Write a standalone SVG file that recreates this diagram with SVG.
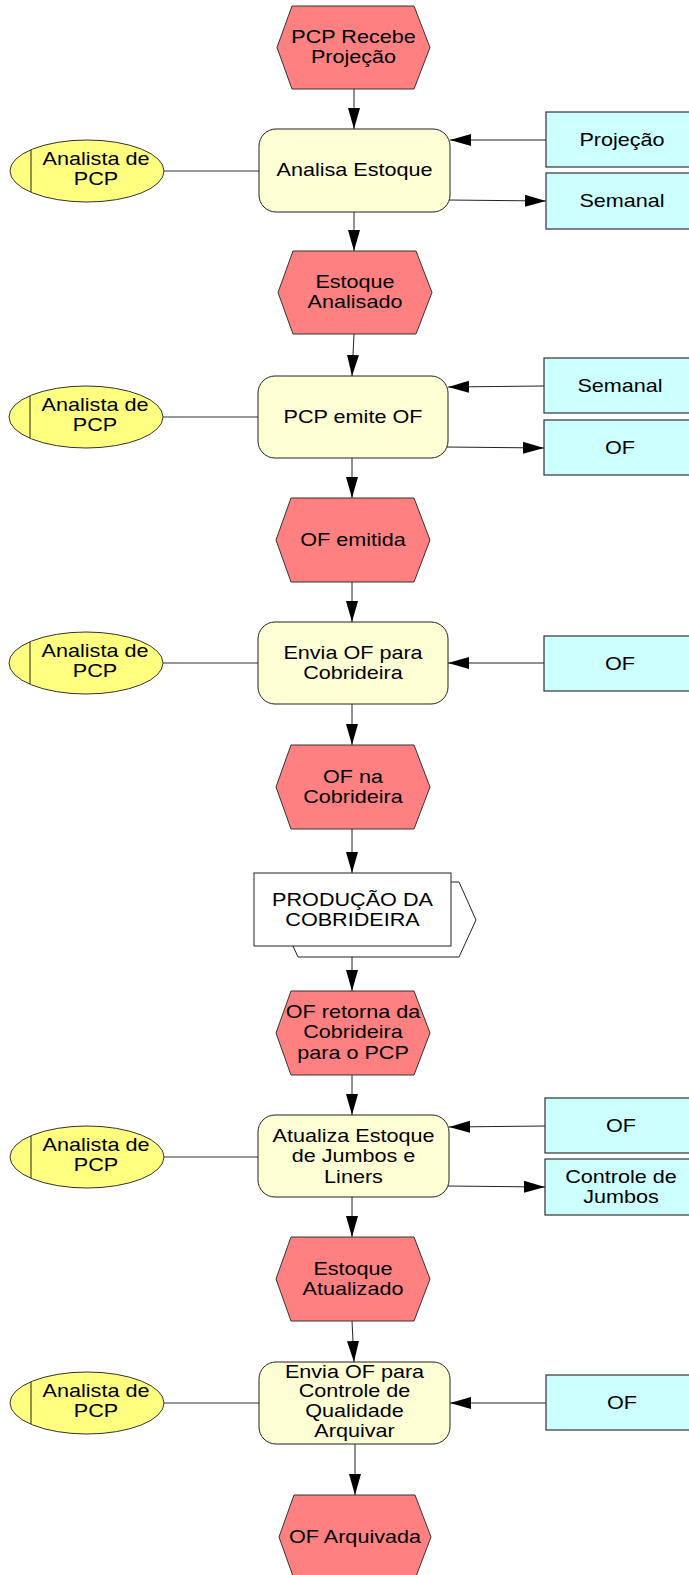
<svg xmlns="http://www.w3.org/2000/svg" width="689" height="1575" viewBox="0 0 689 1575">
<style>
.hex{fill:#FF8080;stroke:#333;stroke-width:1}
.fn{fill:#FFFFD5;stroke:#222;stroke-width:1}
.org{fill:#FFFF80;stroke:#333;stroke-width:1}
.inf{fill:#CCFFFF;stroke:#333;stroke-width:1.2}
.pi{fill:#fff;stroke:#222;stroke-width:1}
.t{font-family:"Liberation Sans",Arial,sans-serif;font-size:18px;fill:#000;text-anchor:middle}
.c{stroke:#222;stroke-width:1;fill:none}
.g{stroke:#333;stroke-width:1.1;fill:none}
</style>
<defs>
<marker id="ah" markerUnits="userSpaceOnUse" markerWidth="21" markerHeight="12" refX="21" refY="6" orient="auto">
<path d="M0,0 L21,6 L0,12 z" fill="#000"/>
</marker>
</defs>
<g id="connectors">
<line class="c" x1="354" y1="89" x2="354" y2="129" marker-end="url(#ah)"/>
<line class="c" x1="354" y1="212" x2="354" y2="251" marker-end="url(#ah)"/>
<line class="c" x1="354" y1="334" x2="352" y2="376" marker-end="url(#ah)"/>
<line class="c" x1="352" y1="458" x2="352" y2="498" marker-end="url(#ah)"/>
<line class="c" x1="352" y1="582" x2="352" y2="622" marker-end="url(#ah)"/>
<line class="c" x1="352" y1="704" x2="352" y2="745" marker-end="url(#ah)"/>
<line class="c" x1="352" y1="829" x2="352" y2="873" marker-end="url(#ah)"/>
<line class="c" x1="352" y1="946" x2="352" y2="991" marker-end="url(#ah)"/>
<line class="c" x1="352" y1="1075" x2="352" y2="1115" marker-end="url(#ah)"/>
<line class="c" x1="352" y1="1197" x2="352" y2="1237" marker-end="url(#ah)"/>
<line class="c" x1="352" y1="1321" x2="354" y2="1362" marker-end="url(#ah)"/>
<line class="c" x1="355" y1="1444" x2="355" y2="1495" marker-end="url(#ah)"/>
<line class="c" x1="546" y1="140" x2="450" y2="140" marker-end="url(#ah)"/>
<line class="c" x1="448" y1="200" x2="546" y2="201" marker-end="url(#ah)"/>
<line class="c" x1="544" y1="386" x2="448" y2="387" marker-end="url(#ah)"/>
<line class="c" x1="446" y1="447" x2="544" y2="448" marker-end="url(#ah)"/>
<line class="c" x1="544" y1="663" x2="448" y2="663" marker-end="url(#ah)"/>
<line class="c" x1="545" y1="1126" x2="449" y2="1127" marker-end="url(#ah)"/>
<line class="c" x1="447" y1="1186" x2="545" y2="1187" marker-end="url(#ah)"/>
<line class="c" x1="546" y1="1403" x2="450" y2="1403" marker-end="url(#ah)"/>
<line class="g" x1="164" y1="171" x2="259" y2="171"/>
<line class="g" x1="163" y1="417" x2="258" y2="417"/>
<line class="g" x1="163" y1="663" x2="258" y2="663"/>
<line class="g" x1="164" y1="1157" x2="258" y2="1157"/>
<line class="g" x1="164" y1="1403" x2="259" y2="1403"/>
</g>
<g id="ev1"><polygon class="hex" points="292,6 414,6 430,47.5 414,89 292,89 277,47.5"/>
<text class="t" transform="translate(353.5,43) scale(1.2,1)"><tspan x="0">PCP Recebe</tspan><tspan x="0" dy="20.5">Projeção</tspan></text></g>
<g id="fn1"><rect class="fn" x="259" y="129" width="191" height="83" rx="17"/>
<text class="t" transform="translate(354.5,176) scale(1.2,1)">Analisa Estoque</text></g>
<g id="org1"><ellipse class="org" cx="87" cy="171" rx="77" ry="31"/><line class="c" x1="31" y1="150" x2="31" y2="192"/>
<text class="t" transform="translate(96,164.5) scale(1.2,1)"><tspan x="0">Analista de</tspan><tspan x="0" dy="20.5">PCP</tspan></text></g>
<g id="inf1"><rect class="inf" x="546" y="112" width="153" height="55"/><text class="t" transform="translate(622,146) scale(1.2,1)">Projeção</text></g>
<g id="inf2"><rect class="inf" x="546" y="173" width="153" height="56"/><text class="t" transform="translate(622,207) scale(1.2,1)">Semanal</text></g>

<g id="ev2"><polygon class="hex" points="293,251 416,251 432,292.5 416,334 293,334 278,292.5"/>
<text class="t" transform="translate(355,288) scale(1.2,1)"><tspan x="0">Estoque</tspan><tspan x="0" dy="20.5">Analisado</tspan></text></g>
<g id="fn2"><rect class="fn" x="258" y="376" width="190" height="82" rx="17"/>
<text class="t" transform="translate(353,423) scale(1.2,1)">PCP emite OF</text></g>
<g id="org2"><ellipse class="org" cx="86" cy="417" rx="77" ry="31"/><line class="c" x1="30" y1="396" x2="30" y2="438"/>
<text class="t" transform="translate(95,410.5) scale(1.2,1)"><tspan x="0">Analista de</tspan><tspan x="0" dy="20.5">PCP</tspan></text></g>
<g id="inf3"><rect class="inf" x="544" y="358" width="153" height="55"/><text class="t" transform="translate(620,391.5) scale(1.2,1)">Semanal</text></g>
<g id="inf4"><rect class="inf" x="544" y="420" width="153" height="55"/><text class="t" transform="translate(620,453.5) scale(1.2,1)">OF</text></g>

<g id="ev3"><polygon class="hex" points="291,498 414,498 430,540 414,582 291,582 276,540"/>
<text class="t" transform="translate(353,546) scale(1.2,1)">OF emitida</text></g>
<g id="fn3"><rect class="fn" x="258" y="622" width="190" height="82" rx="17"/>
<text class="t" transform="translate(353,659) scale(1.2,1)"><tspan x="0">Envia OF para</tspan><tspan x="0" dy="20.5">Cobrideira</tspan></text></g>
<g id="org3"><ellipse class="org" cx="86" cy="663" rx="77" ry="31"/><line class="c" x1="30" y1="642" x2="30" y2="684"/>
<text class="t" transform="translate(95,656.5) scale(1.2,1)"><tspan x="0">Analista de</tspan><tspan x="0" dy="20.5">PCP</tspan></text></g>
<g id="inf5"><rect class="inf" x="544" y="636" width="153" height="55"/><text class="t" transform="translate(620,669.5) scale(1.2,1)">OF</text></g>

<g id="ev4"><polygon class="hex" points="291,745 414,745 430,787 414,829 291,829 276,787"/>
<text class="t" transform="translate(353,783) scale(1.2,1)"><tspan x="0">OF na</tspan><tspan x="0" dy="20.5">Cobrideira</tspan></text></g>
<g id="pi1"><polygon class="pi" points="298,882 459,882 476,920 459,957 298,957 281,920"/>
<rect class="pi" x="254" y="873" width="197" height="73"/>
<text class="t" transform="translate(352.5,905.5) scale(1.2,1)"><tspan x="0">PRODUÇÃO DA</tspan><tspan x="0" dy="20.5">COBRIDEIRA</tspan></text></g>

<g id="ev5"><polygon class="hex" points="291,991 414,991 430,1033 414,1075 291,1075 276,1033"/>
<text class="t" transform="translate(353,1018) scale(1.2,1)"><tspan x="0">OF retorna da</tspan><tspan x="0" dy="20.5">Cobrideira</tspan><tspan x="0" dy="20.5">para o PCP</tspan></text></g>
<g id="fn5"><rect class="fn" x="258" y="1115" width="191" height="82" rx="17"/>
<text class="t" transform="translate(353.5,1142) scale(1.2,1)"><tspan x="0">Atualiza Estoque</tspan><tspan x="0" dy="20.5">de Jumbos e</tspan><tspan x="0" dy="20.5">Liners</tspan></text></g>
<g id="org5"><ellipse class="org" cx="87" cy="1157" rx="77" ry="31"/><line class="c" x1="31" y1="1136" x2="31" y2="1178"/>
<text class="t" transform="translate(96,1150.5) scale(1.2,1)"><tspan x="0">Analista de</tspan><tspan x="0" dy="20.5">PCP</tspan></text></g>
<g id="inf6"><rect class="inf" x="545" y="1098" width="153" height="55"/><text class="t" transform="translate(621,1131.5) scale(1.2,1)">OF</text></g>
<g id="inf7"><rect class="inf" x="545" y="1159" width="153" height="56"/><text class="t" transform="translate(621,1182.5) scale(1.2,1)"><tspan x="0">Controle de</tspan><tspan x="0" dy="20.5">Jumbos</tspan></text></g>

<g id="ev6"><polygon class="hex" points="291,1237 414,1237 430,1279 414,1321 291,1321 276,1279"/>
<text class="t" transform="translate(353,1275) scale(1.2,1)"><tspan x="0">Estoque</tspan><tspan x="0" dy="20.5">Atualizado</tspan></text></g>
<g id="fn6"><rect class="fn" x="259" y="1362" width="191" height="82" rx="17"/>
<text class="t" transform="translate(354.5,1377.5) scale(1.2,1)"><tspan x="0">Envia OF para</tspan><tspan x="0" dy="20">Controle de</tspan><tspan x="0" dy="20">Qualidade</tspan><tspan x="0" dy="20">Arquivar</tspan></text></g>
<g id="org6"><ellipse class="org" cx="87" cy="1403" rx="77" ry="31"/><line class="c" x1="31" y1="1382" x2="31" y2="1424"/>
<text class="t" transform="translate(96,1396.5) scale(1.2,1)"><tspan x="0">Analista de</tspan><tspan x="0" dy="20.5">PCP</tspan></text></g>
<g id="inf8"><rect class="inf" x="546" y="1375" width="153" height="55"/><text class="t" transform="translate(622,1408.5) scale(1.2,1)">OF</text></g>

<g id="ev7"><polygon class="hex" points="294,1495 415,1495 431,1537 415,1579 294,1579 279,1537"/>
<text class="t" transform="translate(355,1543) scale(1.2,1)">OF Arquivada</text></g>
</svg>
